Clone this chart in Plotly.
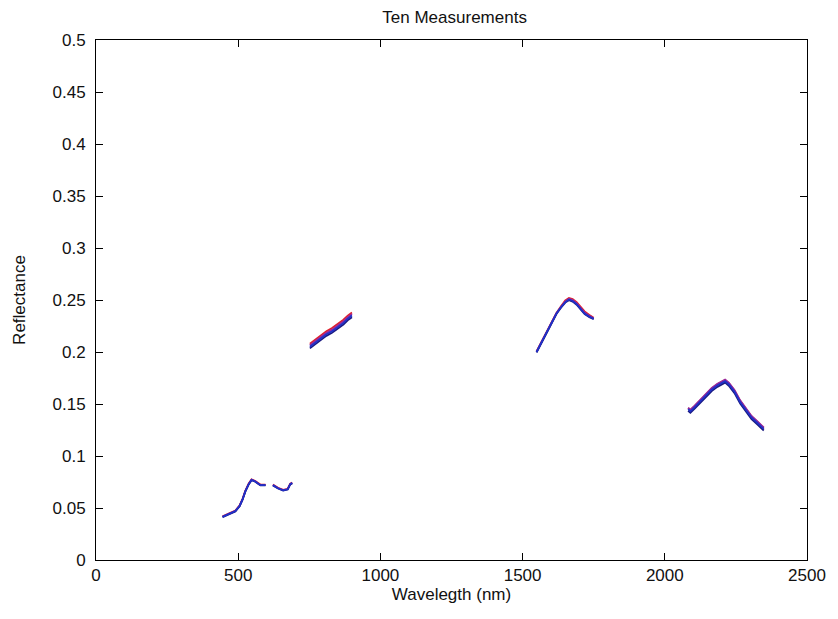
import plotly.graph_objects as go

# Wavelength grid (nm); None marks gaps between measured bands
wavelength = [445, 470, 490, 505, 515, 525, 537, 547, 560, 578, 596, None, 622, 640, 658, 674, 683, 690, None,
              752, 770, 790, 810, 830, 850, 870, 885, 900, None,
              1549, 1566, 1584, 1602, 1619, 1635, 1650, 1663, 1676, 1690, 1705, 1718, 1735, 1750, None,
              2082, 2090, 2105, 2125, 2145, 2165, 2185, 2200, 2212, 2225, 2245, 2265, 2285, 2305, 2325, 2340, 2348]

meas_red = [0.0420, 0.0450, 0.0475, 0.0525, 0.0585, 0.0665, 0.0735, 0.0775, 0.0760, 0.0725, 0.0725, None, 0.0725, 0.0695, 0.0675, 0.0685, 0.0735, 0.0745, None,
            0.208, 0.212, 0.216, 0.220, 0.223, 0.227, 0.231, 0.235, 0.238, None,
            0.2005, 0.2095, 0.2185, 0.2285, 0.2375, 0.2440, 0.2495, 0.2520, 0.2510, 0.2480, 0.2430, 0.2390, 0.2355, 0.2330, None,
            0.146, 0.144, 0.148, 0.154, 0.160, 0.165, 0.169, 0.171, 0.173, 0.170, 0.163, 0.153, 0.145, 0.138, 0.133, 0.129, 0.127]

meas_purple = [0.0418, 0.0447, 0.0472, 0.0522, 0.0582, 0.0662, 0.0732, 0.0772, 0.0757, 0.0722, 0.0722, None, 0.0722, 0.0692, 0.0672, 0.0682, 0.0732, 0.0742, None,
               0.2065, 0.2105, 0.2145, 0.2185, 0.2215, 0.2255, 0.2295, 0.2335, 0.2365, None,
               0.2003, 0.2093, 0.2183, 0.2283, 0.2373, 0.2435, 0.2487, 0.2512, 0.2500, 0.2470, 0.2420, 0.2380, 0.2347, 0.2325, None,
               0.1465, 0.1445, 0.1485, 0.1545, 0.1605, 0.1655, 0.1695, 0.1715, 0.1735, 0.1705, 0.1635, 0.1535, 0.1455, 0.1385, 0.1335, 0.1295, 0.1275]

meas_navy = [0.0412, 0.0442, 0.0467, 0.0517, 0.0577, 0.0657, 0.0727, 0.0767, 0.0752, 0.0717, 0.0717, None, 0.0717, 0.0687, 0.0667, 0.0677, 0.0727, 0.0737, None,
             0.2035, 0.2075, 0.2115, 0.2155, 0.2185, 0.2225, 0.2265, 0.2305, 0.2335, None,
             0.1995, 0.2085, 0.2175, 0.2275, 0.2365, 0.2425, 0.2475, 0.2498, 0.2485, 0.2455, 0.2405, 0.2365, 0.2335, 0.2315, None,
             0.1435, 0.1415, 0.1455, 0.1515, 0.1575, 0.1625, 0.1665, 0.1685, 0.1705, 0.1675, 0.1605, 0.1505, 0.1425, 0.1355, 0.1305, 0.1265, 0.1245]

meas_blue = [0.0415, 0.0445, 0.0470, 0.0520, 0.0580, 0.0660, 0.0730, 0.0770, 0.0755, 0.0720, 0.0720, None, 0.0720, 0.0690, 0.0670, 0.0680, 0.0730, 0.0740, None,
             0.205, 0.209, 0.213, 0.217, 0.220, 0.224, 0.228, 0.232, 0.235, None,
             0.200, 0.209, 0.218, 0.228, 0.237, 0.243, 0.248, 0.2505, 0.249, 0.246, 0.241, 0.237, 0.234, 0.232, None,
             0.145, 0.143, 0.147, 0.153, 0.159, 0.164, 0.168, 0.170, 0.172, 0.169, 0.162, 0.152, 0.144, 0.137, 0.132, 0.128, 0.126]

series_names = ["Measurement 1", "Measurement 2", "Measurement 3", "Measurement 4"]
series_values = [meas_red, meas_purple, meas_navy, meas_blue]
series_colors = ["#e0202a", "#9a2a9a", "#1a1a80", "#2030c8"]

x_ticks = [0, 500, 1000, 1500, 2000, 2500]
x_tick_labels = ["0", "500", "1000", "1500", "2000", "2500"]
y_ticks = [0, 0.05, 0.1, 0.15, 0.2, 0.25, 0.3, 0.35, 0.4, 0.45, 0.5]
y_tick_labels = ["0", "0.05", "0.1", "0.15", "0.2", "0.25", "0.3", "0.35", "0.4", "0.45", "0.5"]

fig = go.Figure()
for name, vals, col in zip(series_names, series_values, series_colors):
    fig.add_trace(go.Scatter(x=wavelength, y=vals, mode="lines", name=name,
                             line=dict(color=col, width=1.8), connectgaps=False))

font_family = "Liberation Sans, Arial, sans-serif"
tick_font = dict(family=font_family, size=17, color="#111111")
label_font = dict(family=font_family, size=17, color="#111111")
axis_common = dict(showline=True, linecolor="black", linewidth=1, mirror="ticks",
                   ticks="inside", ticklen=7, tickcolor="black", tickwidth=1,
                   showgrid=False, zeroline=False, tickfont=tick_font)

fig.update_layout(
    width=838, height=619,
    margin=dict(l=96, r=25, t=40, b=59),
    paper_bgcolor="white", plot_bgcolor="white",
    showlegend=False,
    title=dict(text="Ten Measurements", x=0.5425, xanchor="center", y=1 - 17 / 619, yanchor="middle",
               font=dict(family=font_family, size=17, color="#111111")),
    xaxis=dict(range=[0, 2500], tickvals=x_ticks, ticktext=x_tick_labels, ticklabelstandoff=0,
               title=dict(text="Wavelegth (nm)", standoff=0, font=label_font),
               **axis_common),
    yaxis=dict(range=[0, 0.5], tickvals=y_ticks, ticktext=y_tick_labels, ticklabelstandoff=6,
               title=dict(text="Reflectance", standoff=22, font=label_font),
               **axis_common),
)

fig.write_html("out.html")
